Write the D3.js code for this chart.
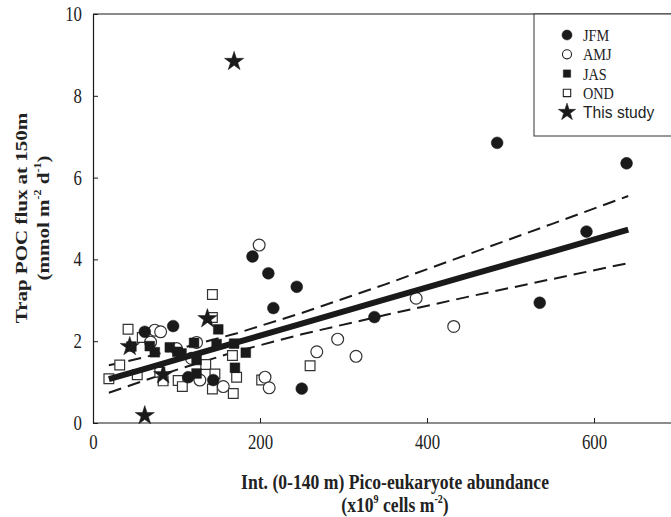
<!DOCTYPE html>
<html><head><meta charset="utf-8">
<script src="https://cdn.jsdelivr.net/npm/d3@7"></script>
<style>body{margin:0;background:#fff}svg{display:block}</style>
</head><body>
<script>
// ---- data ----
const jfmX = [484, 639, 591, 535, 337, 191, 210, 244, 216, 250, 96, 62, 114, 144];
const jfmY = [6.85, 6.35, 4.68, 2.94, 2.59, 4.07, 3.66, 3.33, 2.81, 0.84, 2.37, 2.23, 1.12, 1.05];
const amjX = [199, 387, 432, 293, 268, 315, 206, 211, 74, 81, 69, 100, 118, 128, 156, 124];
const amjY = [4.35, 3.05, 2.36, 2.05, 1.74, 1.63, 1.12, 0.86, 2.27, 2.23, 1.98, 1.82, 1.58, 1.05, 0.89, 1.97];
const jasX = [150, 148, 169, 183, 170, 121, 92, 74, 68, 106, 124, 124, 46, 101];
const jasY = [2.29, 1.93, 1.94, 1.72, 1.35, 1.96, 1.85, 1.73, 1.88, 1.70, 1.54, 1.21, 1.87, 1.74];
const ondX = [143, 143, 42, 59, 32, 19, 53, 80, 84, 102, 107, 135, 146, 143, 167, 172, 168, 202, 260];
const ondY = [3.14, 2.58, 2.29, 2.09, 1.42, 1.08, 1.18, 1.24, 1.03, 1.04, 0.89, 1.43, 1.20, 0.83, 1.65, 1.12, 0.72, 1.05, 1.40];
const starX = [169, 137, 44, 62, 84];
const starY = [8.84, 2.55, 1.87, 0.18, 1.18];
// regression line and 95% confidence band (read along x)
const fitX   = [19, 60, 100, 170, 250, 350, 450, 550, 641];
const fitY   = [1.07, 1.31, 1.55, 1.96, 2.43, 3.02, 3.61, 4.19, 4.73];
const upperY = [1.41, 1.60, 1.80, 2.18, 2.69, 3.39, 4.13, 4.87, 5.55];
const lowerY = [0.74, 1.03, 1.30, 1.74, 2.17, 2.64, 3.09, 3.52, 3.91];
const xTicks = [0, 200, 400, 600];
const yTicks = [0, 2, 4, 6, 8, 10];
const legendLabels = ["JFM", "AMJ", "JAS", "OND", "This study"];

// ---- drawing ----
const W = 671, H = 517;
const SX = 0.84; // horizontal squeeze of the original figure's type
const svg = d3.select("body").append("svg").attr("width", W).attr("height", H);
const x = d3.scaleLinear().domain([0, 700]).range([93, 677.5]);
const y = d3.scaleLinear().domain([0, 10]).range([423, 14]);
const serif = "'Liberation Serif','Times New Roman',serif";
const ink = "#1a1a1a";

// frame
svg.append("line").attr("x1", 93).attr("x2", W).attr("y1", 14).attr("y2", 14).attr("stroke", ink).attr("stroke-width", 1.2);

// axes
const xAxis = d3.axisBottom(x).tickValues(xTicks).tickSizeInner(-5).tickSizeOuter(0).tickPadding(12);
const gx = svg.append("g").attr("transform", "translate(0,423)").call(xAxis);
const yAxis = d3.axisLeft(y).tickValues(yTicks).tickSizeInner(-5).tickSizeOuter(0).tickPadding(11);
const gy = svg.append("g").attr("transform", "translate(93,0)").call(yAxis);
[gx, gy].forEach(g => {
  g.select(".domain").attr("stroke", ink).attr("stroke-width", 1.2);
  g.selectAll(".tick line").attr("stroke", ink).attr("stroke-width", 1);
  g.selectAll("text").attr("font-family", serif).attr("font-size", 20).attr("fill", "#222")
    .attr("transform", `scale(${SX},1)`);
});
gx.select(".domain").attr("d", `M93,0H${W}`);
gy.selectAll("text").attr("x", -11 / SX);

// axis titles
function titleText(parent, tx, ty, extra) {
  return parent.append("text").attr("transform", `translate(${tx},${ty}) ${extra}`)
    .attr("text-anchor", "middle").attr("font-family", serif).attr("font-weight", "bold")
    .attr("font-size", 21).attr("fill", "#222");
}
titleText(svg, 395, 489, `scale(${SX},1)`).text("Int. (0-140 m) Pico-eukaryote abundance");
const xt2 = titleText(svg, 395, 512, `scale(${SX},1)`);
xt2.append("tspan").text("(x10");
xt2.append("tspan").attr("dy", -9).attr("font-size", 12).text("9");
xt2.append("tspan").attr("dy", 9).text(" cells m");
xt2.append("tspan").attr("dy", -9).attr("font-size", 12).text("-2");
xt2.append("tspan").attr("dy", 9).text(")");

titleText(svg, 27, 218, `rotate(-90) scale(1,${SX})`).text("Trap POC flux at 150m");
const yt2 = titleText(svg, 49, 218, `rotate(-90) scale(1,${SX})`);
yt2.append("tspan").text("(mmol m");
yt2.append("tspan").attr("dy", -9).attr("font-size", 12).text("-2");
yt2.append("tspan").attr("dy", 9).text(" d");
yt2.append("tspan").attr("dy", -9).attr("font-size", 12).text("-1");
yt2.append("tspan").attr("dy", 9).text(")");

// lines
const line = d3.line().x(d => x(d[0])).y(d => y(d[1]));
[upperY, lowerY].forEach(arr => {
  svg.append("path").datum(d3.zip(fitX, arr)).attr("d", line).attr("fill", "none")
    .attr("stroke", ink).attr("stroke-width", 2).attr("stroke-dasharray", "13,7");
});

// markers
const symType = { circle: d3.symbolCircle, square: d3.symbolSquare, star: d3.symbolStar };
const symSize = { circle: 110, square: 95, star: 115 };
function plot(xs, ys, type, filled) {
  svg.append("g").selectAll("path").data(d3.zip(xs, ys)).join("path")
    .attr("transform", d => `translate(${x(d[0])},${y(d[1])})`)
    .attr("d", d3.symbol().type(symType[type]).size(symSize[type])())
    .attr("fill", filled ? ink : "#fff")
    .attr("stroke", filled ? ink : "#333")
    .attr("stroke-width", filled ? 0.5 : 1.2);
}
plot(ondX, ondY, "square", false);
plot(amjX, amjY, "circle", false);
plot(jasX, jasY, "square", true);
plot(jfmX, jfmY, "circle", true);

svg.append("path").datum(d3.zip(fitX, fitY)).attr("d", line).attr("fill", "none")
  .attr("stroke", ink).attr("stroke-width", 6);
plot(starX, starY, "star", true);

// legend
const lg = svg.append("g");
lg.append("rect").attr("x", 534).attr("y", 14).attr("width", 150).attr("height", 122)
  .attr("fill", "#fff").attr("stroke", "#333").attr("stroke-width", 1);
const legType = [["circle", true], ["circle", false], ["square", true], ["square", false], ["star", true]];
const legSize = [80, 65, 55, 55, 95];
legendLabels.forEach((t, i) => {
  const yy = 35 + i * 19.3;
  lg.append("path").attr("transform", `translate(567,${yy})`)
    .attr("d", d3.symbol().type(symType[legType[i][0]]).size(legSize[i])())
    .attr("fill", legType[i][1] ? ink : "#fff").attr("stroke", "#222").attr("stroke-width", legType[i][1] ? 0.5 : 1.1);
  lg.append("text").attr("transform", `translate(583,${yy + 6}) scale(${i === 4 ? 0.92 : SX},1)`)
    .attr("font-size", 17).attr("fill", "#222")
    .attr("font-family", i === 4 ? "'Liberation Sans',Arial,sans-serif" : serif).text(t);
});
</script>
</body></html>
